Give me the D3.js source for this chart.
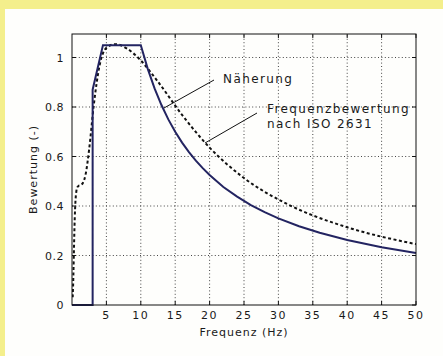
<!DOCTYPE html>
<html>
<head>
<meta charset="utf-8">
<script src="https://d3js.org/d3.v7.min.js"></script>
<style>
  html, body { margin: 0; padding: 0; background: #f4ef8c; }
  text { font-family: "DejaVu Sans", Verdana, sans-serif; fill: #1a1a1a; }
  .grid line { stroke: #444444; stroke-width: 1; stroke-dasharray: 1,2.4; }
  .tick-label { font-size: 11px; }
  .axis-label { font-size: 11px; letter-spacing: 1px; }
  .note { font-size: 12px; letter-spacing: 1.4px; }
</style>
</head>
<body>
<div id="chart"></div>
<script>
  // Frequenzbewertung nach ISO 2631 (Wk)
  const isoFreq  = [0.1, 0.125, 0.16, 0.2, 0.25, 0.315, 0.4, 0.5, 0.63, 0.8, 1, 1.25, 1.6, 2, 2.5, 3.15, 4, 5, 6.3, 8, 10, 12.5, 16, 20, 25, 31.5, 40, 50];
  const isoValue = [0.031, 0.049, 0.079, 0.121, 0.182, 0.263, 0.352, 0.418, 0.459, 0.477, 0.482, 0.484, 0.494, 0.531, 0.631, 0.804, 0.967, 1.039, 1.054, 1.036, 0.988, 0.902, 0.768, 0.636, 0.513, 0.405, 0.314, 0.246];

  // Näherung
  const approxFreq  = [0, 3, 3, 4.5, 10, 11, 12, 13, 14, 15, 16, 17, 18, 19, 20, 22, 24, 26, 28, 30, 33, 36, 40, 45, 50];
  const approxValue = [0, 0, 0.87, 1.05, 1.05, 0.955, 0.875, 0.808, 0.75, 0.70, 0.656, 0.618, 0.583, 0.553, 0.525, 0.477, 0.438, 0.404, 0.375, 0.35, 0.318, 0.292, 0.263, 0.233, 0.21];

  const xTicks = [5, 10, 15, 20, 25, 30, 35, 40, 45, 50];
  const yTicks = [0, 0.2, 0.4, 0.6, 0.8, 1];

  const W = 443, H = 356;
  const margin = {top: 34, right: 27, bottom: 51, left: 72};

  const svg = d3.select("#chart").append("svg")
    .attr("width", W).attr("height", H)
    .style("display", "block");

  // white panel on yellow
  svg.append("rect").attr("x", 5).attr("y", 9)
    .attr("width", W - 5).attr("height", H - 9)
    .attr("fill", "#fefefc");

  const x = d3.scaleLinear().domain([0, 50]).range([margin.left, W - margin.right]);
  const y = d3.scaleLinear().domain([0, 1.095]).range([H - margin.bottom, margin.top]);

  const x0 = x.range()[0], x1 = x.range()[1], y0 = y.range()[0], y1 = y.range()[1];

  // grid
  const grid = svg.append("g").attr("class", "grid");
  grid.selectAll("line.v").data(xTicks.filter(d => d < 50)).join("line")
    .attr("x1", d => x(d)).attr("x2", d => x(d)).attr("y1", y0).attr("y2", y1);
  grid.selectAll("line.h").data(yTicks.filter(d => d > 0)).join("line")
    .attr("x1", x0).attr("x2", x1).attr("y1", d => y(d)).attr("y2", d => y(d));

  // inward ticks on all four sides
  const ticks = svg.append("g").attr("stroke", "#111").attr("stroke-width", 1);
  xTicks.forEach(d => {
    ticks.append("line").attr("x1", x(d)).attr("x2", x(d)).attr("y1", y0).attr("y2", y0 - 4);
    ticks.append("line").attr("x1", x(d)).attr("x2", x(d)).attr("y1", y1).attr("y2", y1 + 4);
  });
  yTicks.forEach(d => {
    ticks.append("line").attr("x1", x0).attr("x2", x0 + 4).attr("y1", y(d)).attr("y2", y(d));
    ticks.append("line").attr("x1", x1).attr("x2", x1 - 4).attr("y1", y(d)).attr("y2", y(d));
  });

  // tick labels
  svg.append("g").selectAll("text").data(xTicks).join("text")
    .attr("class", "tick-label")
    .attr("x", d => x(d)).attr("y", y0 + 14)
    .attr("text-anchor", "middle")
    .style("letter-spacing", "1.5px")
    .text(d => d);
  svg.append("g").selectAll("text").data(yTicks).join("text")
    .attr("class", "tick-label")
    .attr("x", x0 - 8).attr("y", d => y(d) + 4)
    .attr("text-anchor", "end")
    .style("letter-spacing", "0.5px")
    .text(d => d);

  // axis labels
  svg.append("text").attr("class", "axis-label")
    .attr("x", (x0 + x1) / 2).attr("y", 336)
    .attr("text-anchor", "middle")
    .text("Frequenz (Hz)");
  svg.append("text").attr("class", "axis-label")
    .attr("transform", `translate(37, ${(y0 + y1) / 2}) rotate(-90)`)
    .attr("text-anchor", "middle")
    .text("Bewertung (-)");

  svg.append("clipPath").attr("id", "clip")
    .append("rect").attr("x", x0).attr("y", y1 - 2).attr("width", x1 - x0).attr("height", y0 - y1 + 4);

  // ISO 2631 curve (dashed)
  const isoData = isoFreq.map((f, i) => ({f: f, v: isoValue[i]}));
  svg.append("path").datum(isoData)
    .attr("clip-path", "url(#clip)")
    .attr("fill", "none").attr("stroke", "#111111")
    .attr("stroke-width", 2).attr("stroke-dasharray", "3,2.5")
    .attr("d", d3.line().curve(d3.curveMonotoneX).x(d => x(d.f)).y(d => y(d.v)));

  // Näherung (solid)
  const approxData = approxFreq.map((f, i) => ({f: f, v: approxValue[i]}));
  svg.append("path").datum(approxData)
    .attr("fill", "none").attr("stroke", "#232461")
    .attr("stroke-width", 2).attr("stroke-linejoin", "miter")
    .attr("d", d3.line().x(d => x(d.f)).y(d => y(d.v)));

  // frame
  svg.append("rect").attr("x", x0).attr("y", y1)
    .attr("width", x1 - x0).attr("height", y0 - y1)
    .attr("fill", "none").attr("stroke", "#111").attr("stroke-width", 1);

  // annotations
  const notes = svg.append("g");
  notes.append("line").attr("x1", 214).attr("y1", 80).attr("x2", 164).attr("y2", 108)
    .attr("stroke", "#111").attr("stroke-width", 1);
  notes.append("text").attr("class", "note").attr("x", 223).attr("y", 83)
    .text("Näherung");
  notes.append("line").attr("x1", 257).attr("y1", 113).attr("x2", 205).attr("y2", 143)
    .attr("stroke", "#111").attr("stroke-width", 1);
  notes.append("text").attr("class", "note").attr("x", 267).attr("y", 113)
    .text("Frequenzbewertung");
  notes.append("text").attr("class", "note").attr("x", 267).attr("y", 128)
    .text("nach ISO 2631");
</script>
</body>
</html>
